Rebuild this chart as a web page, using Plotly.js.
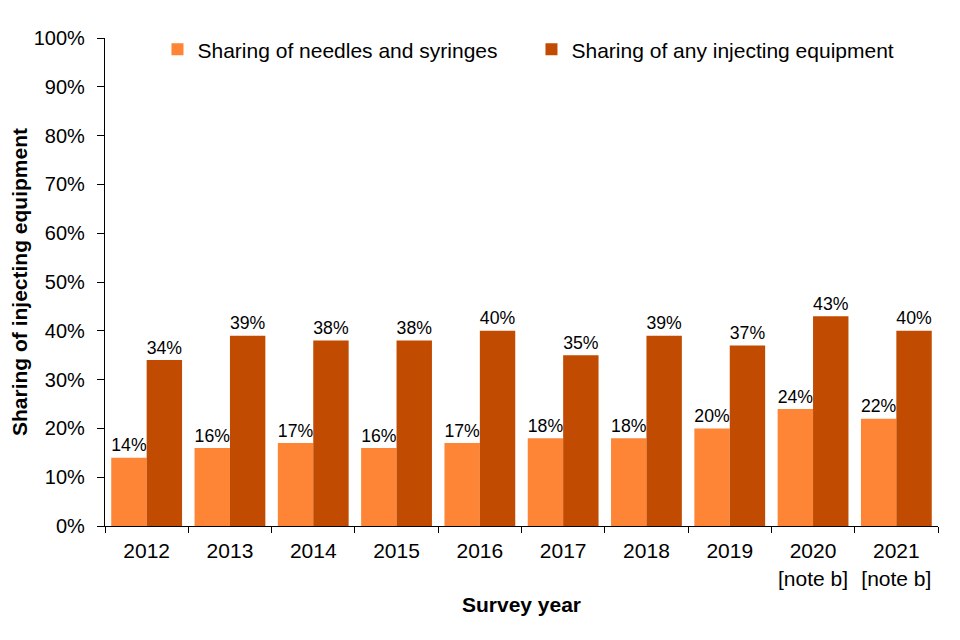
<!DOCTYPE html>
<html><head><meta charset="utf-8">
<script src="https://cdn.plot.ly/plotly-3.0.1.min.js"></script>
<style>body{margin:0;background:#fff}#c{width:960px;height:640px}</style>
</head><body><div id="c"></div>
<script>
const years = ["2012","2013","2014","2015","2016","2017","2018","2019","2020<br>[note b]","2021<br>[note b]"];
const needles = [14,16,17,16,17,18,18,20,24,22];
const anyEquip = [34,39,38,38,40,35,39,37,43,40];
const yTicks = [0,10,20,30,40,50,60,70,80,90,100];
const font = "Liberation Sans, Arial, sans-serif";
const traces = [
 {type:"bar", name:"Sharing of needles and syringes", x:years, y:needles, marker:{color:"#FD8535"},
  text:needles.map(v=>v+"%"), textposition:"outside", cliponaxis:false, textfont:{size:21,color:"#000",family:font}},
 {type:"bar", name:"Sharing of any injecting equipment", x:years, y:anyEquip, marker:{color:"#C14B00"},
  text:anyEquip.map(v=>v+"%"), textposition:"outside", cliponaxis:false, textfont:{size:21,color:"#000",family:font}}
];
const layout = {
 width:960, height:640, margin:{l:105,r:22,t:38,b:114},
 paper_bgcolor:"#fff", plot_bgcolor:"#fff",
 font:{family:font,size:20,color:"#000"},
 barmode:"group", bargap:0.15, bargroupgap:0,
 showlegend:true,
 legend:{orientation:"h", x:0.063, y:1.018, xanchor:"left", yanchor:"top", font:{size:21}, traceorder:"normal",
   itemwidth:30, entrywidth:329, entrywidthmode:"pixels", bgcolor:"rgba(0,0,0,0)"},
 xaxis:{type:"category", showline:true, linecolor:"#000", linewidth:1.3, ticks:"outside", ticklen:6, tickcolor:"#000", tickson:"boundaries",
   ticklabelstandoff:6, tickfont:{size:21}, showgrid:false, title:{text:"Survey year", font:{size:21, weight:"bold"}, standoff:8}},
 yaxis:{range:[0,100], tickvals:yTicks, ticktext:yTicks.map(v=>v+"%"), showline:true, linecolor:"#000", linewidth:1.3,
   ticks:"outside", ticklen:7, tickcolor:"#000", showgrid:false, zeroline:false, tickfont:{size:20}, ticklabelstandoff:8,
   title:{text:"Sharing of injecting equipment", font:{size:21, weight:"bold"}, standoff:0}}
};
Plotly.newPlot("c", traces, layout, {displayModeBar:false});
</script></body></html>
